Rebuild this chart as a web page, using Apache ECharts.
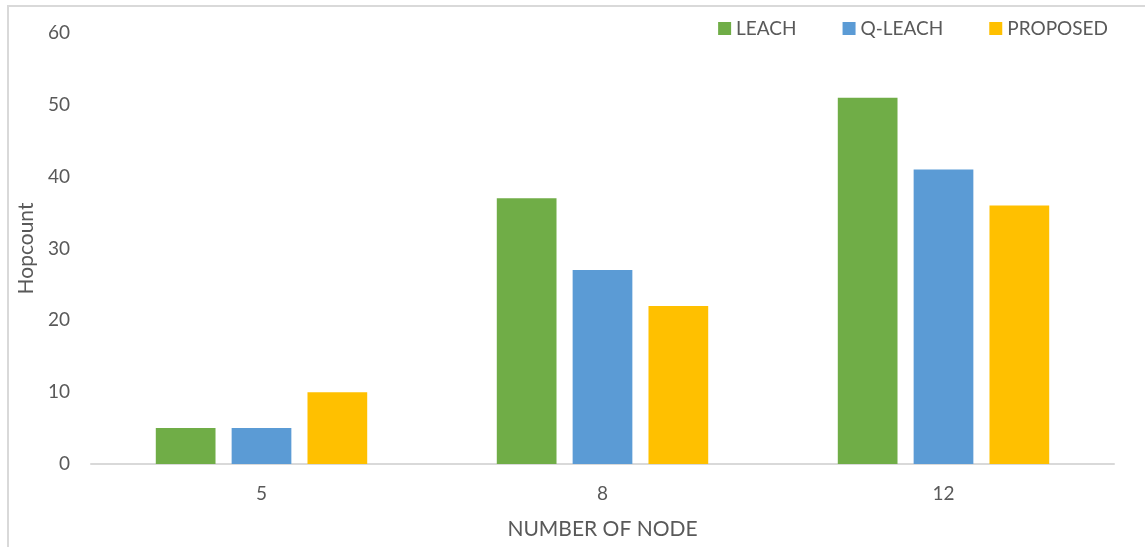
<!DOCTYPE html>
<html>
<head>
<meta charset="utf-8">
<script src="https://cdn.jsdelivr.net/npm/echarts@6/dist/echarts.min.js"></script>
<style>
  html, body { margin: 0; padding: 0; background: #fff; }
  #chart { width: 1145px; height: 547px; }
</style>
</head>
<body>
<div id="chart"></div>
<script>
const categories = ['5', '8', '12']
const leach = [5, 37, 51]
const qLeach = [5, 27, 41]
const proposed = [10, 22, 36]

const textColor = '#595959'
const font = 'Lato, "Open Sans", sans-serif'

const chart = echarts.init(document.getElementById('chart'))

chart.setOption({
  animation: false,
  textStyle: { fontFamily: font },
  graphic: [{
    type: 'rect',
    shape: { x: 8, y: 6, width: 1300, height: 700 },
    style: { fill: 'none', stroke: '#d9d9d9', lineWidth: 2 }
  }],
  legend: {
    top: 14,
    right: 32,
    itemWidth: 13,
    itemHeight: 13,
    itemGap: 46,
    icon: 'rect',
    textStyle: { color: textColor, fontSize: 19, fontFamily: font }
  },
  grid: { left: 91, right: 31, top: 33, bottom: 83 },
  xAxis: {
    type: 'category',
    data: categories,
    name: 'NUMBER OF NODE',
    nameLocation: 'middle',
    nameGap: 55,
    nameTextStyle: { color: textColor, fontSize: 21, fontFamily: font },
    axisLine: { lineStyle: { color: '#d9d9d9', width: 2 } },
    axisTick: { show: false },
    axisLabel: { color: textColor, fontSize: 19, margin: 20, fontFamily: font }
  },
  yAxis: {
    type: 'value',
    min: 0,
    max: 60,
    interval: 10,
    name: 'Hopcount',
    nameLocation: 'middle',
    nameGap: 50,
    nameTextStyle: { color: textColor, fontSize: 21, fontFamily: font },
    axisLine: { show: false },
    axisTick: { show: false },
    splitLine: { show: false },
    axisLabel: { color: textColor, fontSize: 19, margin: 21, fontFamily: font }
  },
  series: [
    { name: 'LEACH', type: 'bar', data: leach, itemStyle: { color: '#70AD47' }, barGap: '27%', barCategoryGap: '38%' },
    { name: 'Q-LEACH', type: 'bar', data: qLeach, itemStyle: { color: '#5B9BD5' } },
    { name: 'PROPOSED', type: 'bar', data: proposed, itemStyle: { color: '#FFC000' } }
  ]
})
</script>
</body>
</html>
